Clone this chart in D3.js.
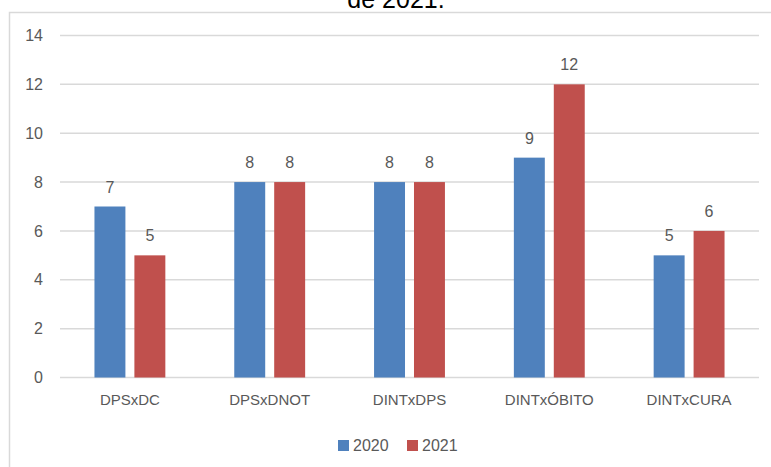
<!DOCTYPE html>
<html><head><meta charset="utf-8">
<script src="https://cdn.jsdelivr.net/npm/d3@7"></script>
<style>body{margin:0;background:#fff}svg{display:block}</style>
</head><body>
<svg id="c" width="771" height="467"></svg>
<script>
const categories = ["DPSxDC","DPSxDNOT","DINTxDPS","DINTxÓBITO","DINTxCURA"];
const seriesNames = ["2020","2021"];
const values2020 = [7,8,8,9,5];
const values2021 = [5,8,8,12,6];
const yTicks = [0,2,4,6,8,10,12,14];
const colors = ["#4F81BD","#C0504D"];
const titleText = "de 2021.";

const svg = d3.select("#c");
const font = "'Liberation Sans', Arial, sans-serif";
const txt = "#595959";

// partially visible title
svg.append("text").attr("x",396).attr("y",8).attr("text-anchor","middle")
  .attr("font-family",font).attr("font-size",25).attr("fill","#000").text(titleText);

// chart border
svg.append("rect").attr("x",9.5).attr("y",12.5).attr("width",800).attr("height",500)
  .attr("fill","none").attr("stroke","#D9D9D9").attr("stroke-width",1.5);

const x = d3.scaleBand().domain(categories).range([60,759]).paddingInner(0.493).paddingOuter(0.2465);
const xs = d3.scaleBand().domain(seriesNames).range([0,x.bandwidth()]).paddingInner(0.225);
const y = d3.scaleLinear().domain([0,14]).range([377.5,35.5]);

// gridlines
svg.append("g").selectAll("line").data(yTicks).join("line")
  .attr("x1",60).attr("x2",759).attr("y1",d=>y(d)).attr("y2",d=>y(d))
  .attr("stroke","#D9D9D9").attr("stroke-width",1.5);

// y axis labels
const yAxis = d3.axisLeft(y).tickValues(yTicks).tickSize(0).tickPadding(0);
const ga = svg.append("g").attr("transform","translate(43,0)").call(yAxis);
ga.select(".domain").remove();
ga.selectAll("text").attr("font-family",font).attr("font-size",16).attr("fill",txt);

// x axis labels
const xAxis = d3.axisBottom(x).tickSize(0).tickPadding(0);
const gx = svg.append("g").attr("transform","translate(0,394)").call(xAxis);
gx.select(".domain").remove();
gx.selectAll("text").attr("font-family",font).attr("font-size",15).attr("fill",txt);

const data = categories.map((c,i)=>({c, vals:[values2020[i],values2021[i]]}));
const groups = svg.append("g").selectAll("g").data(data).join("g")
  .attr("transform",d=>`translate(${x(d.c)},0)`);
groups.selectAll("rect").data(d=>d.vals.map((v,j)=>({v,s:seriesNames[j],j}))).join("rect")
  .attr("x",d=>xs(d.s)).attr("width",xs.bandwidth())
  .attr("y",d=>y(d.v)).attr("height",d=>y(0)-y(d.v))
  .attr("fill",d=>colors[d.j]);
groups.selectAll("text").data(d=>d.vals.map((v,j)=>({v,s:seriesNames[j],j}))).join("text")
  .attr("x",d=>xs(d.s)+xs.bandwidth()/2).attr("y",d=>y(d.v)-14)
  .attr("text-anchor","middle").attr("font-family",font).attr("font-size",16).attr("fill",txt)
  .text(d=>d.v);

// legend
const legX = [338,407];
const lg = svg.append("g").selectAll("g").data(seriesNames).join("g")
  .attr("transform",(d,i)=>`translate(${legX[i]},440)`);
lg.append("rect").attr("width",11).attr("height",11).attr("fill",(d,i)=>colors[i]);
lg.append("text").attr("x",15).attr("y",11).attr("font-family",font).attr("font-size",16)
  .attr("fill",txt).text(d=>d);
</script>
</body></html>
